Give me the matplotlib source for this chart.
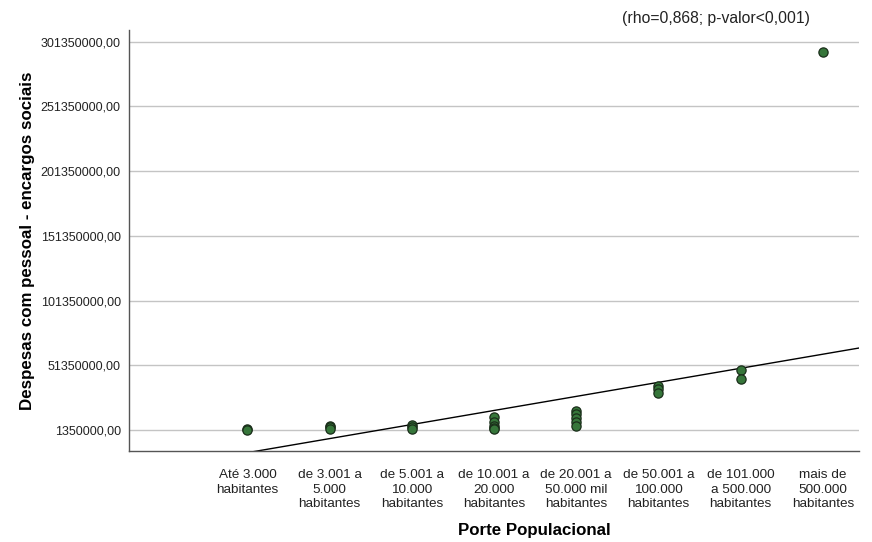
import numpy as np
import matplotlib.pyplot as plt

plt.rcParams['font.family'] = ['Liberation Sans', 'DejaVu Sans']

# Porte populacional (ordinal) x despesas com pessoal
categorias = [
    "Até 3.000\nhabitantes",
    "de 3.001 a\n5.000\nhabitantes",
    "de 5.001 a\n10.000\nhabitantes",
    "de 10.001 a\n20.000\nhabitantes",
    "de 20.001 a\n50.000 mil\nhabitantes",
    "de 50.001 a\n100.000\nhabitantes",
    "de 101.000\na 500.000\nhabitantes",
    "mais de\n500.000\nhabitantes",
]

despesas = [
    [1.9e6, 1.6e6],
    [4.5e6, 3.3e6, 2.4e6],
    [5.2e6, 3.5e6, 2.4e6],
    [11.2e6, 7.8e6, 4.4e6, 3.2e6, 2.1e6],
    [16.3e6, 13.7e6, 10.4e6, 7.5e6, 4.7e6],
    [35.6e6, 32.8e6, 30.2e6],
    [47.7e6, 40.5e6],
    [293.4e6],
]

y_ticks = [1350000, 51350000, 101350000, 151350000, 201350000, 251350000, 301350000]

# reta de ajuste linear
intercepto = -27.1e6
inclinacao = 10.87e6

fig = plt.figure(figsize=(8.72, 5.42), dpi=100)
ax = fig.add_axes([0.148, 0.168, 0.837, 0.777])

xs, ys = [], []
for i, vals in enumerate(despesas, start=1):
    xs += [i] * len(vals)
    ys += vals
ax.scatter(xs, ys, s=44, facecolor="#36763a", edgecolor="#1a2e1a",
           linewidth=0.9, zorder=3)

x0, x1 = -0.44, 8.44
y0, y1 = -14.9e6, 310.6e6
xl = np.array([x0, x1])
ax.plot(xl, intercepto + inclinacao * xl, color="black", linewidth=1.0, zorder=2)

ax.set_xlim(x0, x1)
ax.set_ylim(y0, y1)

ax.set_yticks(y_ticks)
ax.set_yticklabels([f"{v:d},00" for v in y_ticks], fontsize=9, color="#222222")
ax.set_xticks(range(1, 9))
ax.set_xticklabels(categorias, fontsize=9.7, color="#222222", linespacing=1.3)
ax.tick_params(axis="both", length=0, pad=6)
ax.tick_params(axis="x", pad=13)

ax.yaxis.grid(True, color="#c4c4c4", linewidth=1.0)
ax.set_axisbelow(True)
for s in ["top", "right"]:
    ax.spines[s].set_visible(False)
for s in ["left", "bottom"]:
    ax.spines[s].set_color("#555555")
    ax.spines[s].set_linewidth(1.0)

ax.set_ylabel("Despesas com pessoal - encargos sociais", fontsize=12.2,
              fontweight="bold", labelpad=4)
fig.text(534 / 872, 1 - 530 / 542, "Porte Populacional", fontsize=12.2,
         fontweight="bold", ha="center", va="center")

fig.text(622 / 872, 1 - 19 / 542, "(rho=0,868; p-valor<0,001)", fontsize=11.3,
         color="#222222", ha="left", va="center")

fig.savefig("out.png", dpi=100, facecolor="white")
